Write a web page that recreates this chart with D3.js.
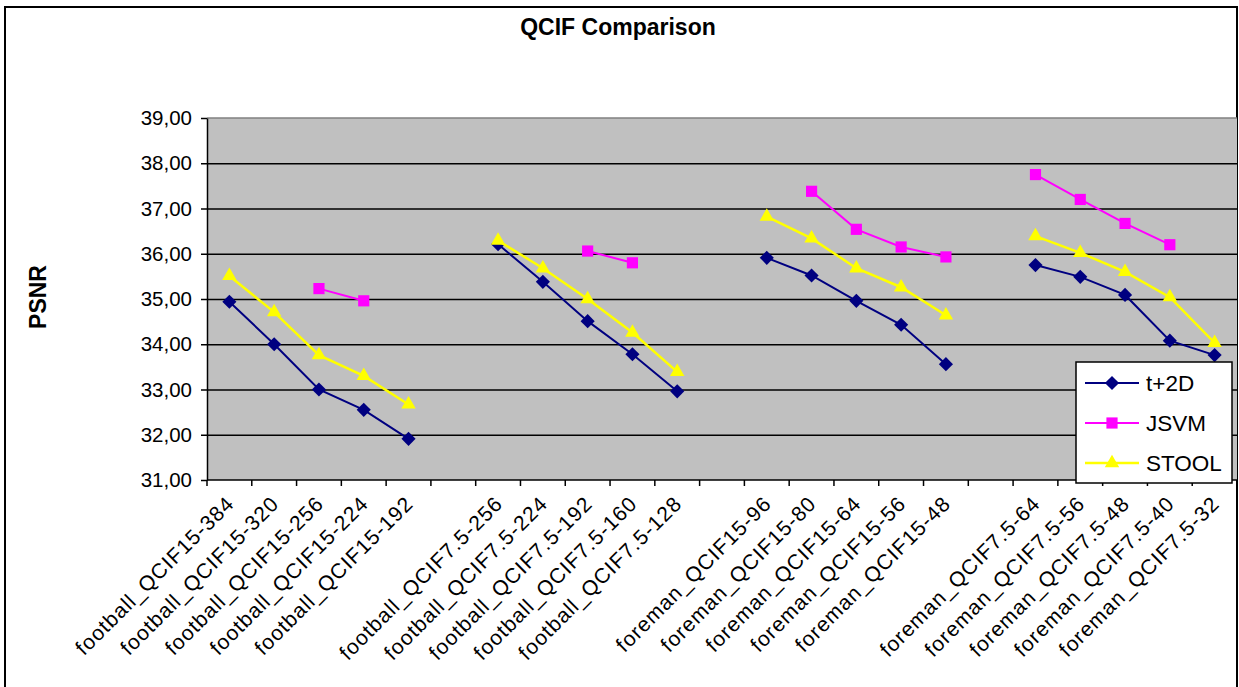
<!DOCTYPE html>
<html>
<head>
<meta charset="utf-8">
<script src="https://cdn.jsdelivr.net/npm/d3@7"></script>
<style>
  body { margin: 0; background: #fff; }
  text { font-family: "Liberation Sans", Arial, sans-serif; }
</style>
</head>
<body>
<div id="the_board"></div>
<script>
// categories ("" = empty gap slot between groups)
var categories = [
  "football_QCIF15-384", "football_QCIF15-320", "football_QCIF15-256", "football_QCIF15-224", "football_QCIF15-192",
  "",
  "football_QCIF7.5-256", "football_QCIF7.5-224", "football_QCIF7.5-192", "football_QCIF7.5-160", "football_QCIF7.5-128",
  "",
  "foreman_QCIF15-96", "foreman_QCIF15-80", "foreman_QCIF15-64", "foreman_QCIF15-56", "foreman_QCIF15-48",
  "",
  "foreman_QCIF7.5-64", "foreman_QCIF7.5-56", "foreman_QCIF7.5-48", "foreman_QCIF7.5-40", "foreman_QCIF7.5-32"
];

// series values (null = no value)
var t2d = [
  34.94, 34.00, 33.00, 32.55, 31.91, null,
  36.21, 35.38, 34.51, 33.78, 32.96, null,
  35.91, 35.52, 34.96, 34.43, 33.56, null,
  35.75, 35.49, 35.09, 34.08, 33.76
];
var jsvm = [
  null, null, 35.23, 34.96, null, null,
  null, null, 36.06, 35.80, null, null,
  null, 37.38, 36.54, 36.15, 35.93, null,
  37.75, 37.20, 36.67, 36.20, null
];
var stool = [
  35.51, 34.71, 33.76, 33.30, 32.67, null,
  36.29, 35.68, 35.00, 34.26, 33.39, null,
  36.82, 36.34, 35.68, 35.26, 34.64, null,
  36.39, 36.02, 35.60, 35.04, 34.03
];

var yTicks = [31, 32, 33, 34, 35, 36, 37, 38, 39];

var series = [
  { name: "t+2D", values: t2d, color: "#000080", marker: "diamond", lw: 2 },
  { name: "JSVM", values: jsvm, color: "#FF00FF", marker: "square", lw: 2 },
  { name: "STOOL", values: stool, color: "#FFFF00", marker: "triangle", lw: 2.5 }
];

var W = 1239, H = 687;
var plot = { left: 207, top: 118, right: 1237, bottom: 480 };

var svg = d3.select("#the_board")
  .append("svg")
  .attr("width", W)
  .attr("height", H);

// outer chart frame
svg.append("rect")
  .attr("x", 5).attr("y", 7)
  .attr("width", 1232).attr("height", 690)
  .attr("fill", "#fff")
  .attr("stroke", "#000")
  .attr("stroke-width", 2);

var x = d3.scaleBand()
  .domain(d3.range(categories.length))
  .range([plot.left, plot.right])
  .padding(0);

var y = d3.scaleLinear()
  .domain([31, 39])
  .range([plot.bottom, plot.top]);

// plot background
svg.append("rect")
  .attr("x", plot.left).attr("y", plot.top)
  .attr("width", plot.right - plot.left)
  .attr("height", plot.bottom - plot.top)
  .attr("fill", "#C0C0C0");

// top edge
svg.append("line")
  .attr("x1", plot.left).attr("x2", plot.right)
  .attr("y1", y(39)).attr("y2", y(39))
  .attr("stroke", "#808080").attr("stroke-width", 1.5);

// gridlines
svg.append("g")
  .attr("transform", "translate(" + plot.left + ",0)")
  .call(d3.axisLeft(y).tickValues(yTicks.slice(1, -1)).tickSize(-(plot.right - plot.left)).tickFormat(""))
  .call(function(g) {
    g.select(".domain").remove();
    g.selectAll("line").attr("stroke", "#000").attr("stroke-width", 1.5);
  });

// y axis
svg.append("g")
  .attr("transform", "translate(" + plot.left + ",0)")
  .call(d3.axisLeft(y).tickValues(yTicks).tickSize(6).tickSizeOuter(0).tickPadding(9)
    .tickFormat(function(d) { return d.toFixed(2).replace(".", ","); }))
  .call(function(g) {
    g.select(".domain").attr("stroke", "#000").attr("stroke-width", 1.5);
    g.selectAll("line").attr("stroke", "#000").attr("stroke-width", 1.5);
    g.selectAll("text").attr("font-size", 20.5).attr("fill", "#000")
      .style("font-family", "'Liberation Sans', Arial, sans-serif");
  });

// x axis: line + boundary ticks
var bounds = d3.range(categories.length).map(function(i) { return x(i); }).concat([plot.right]);
svg.append("line")
  .attr("x1", plot.left).attr("x2", plot.right)
  .attr("y1", plot.bottom).attr("y2", plot.bottom)
  .attr("stroke", "#000").attr("stroke-width", 1.5);
svg.append("g").selectAll("line")
  .data(bounds)
  .enter().append("line")
  .attr("x1", function(d) { return d; }).attr("x2", function(d) { return d; })
  .attr("y1", plot.bottom).attr("y2", plot.bottom + 6)
  .attr("stroke", "#000").attr("stroke-width", 1.5);

// x labels
svg.append("g")
  .attr("transform", "translate(0," + plot.bottom + ")")
  .call(d3.axisBottom(x).tickSize(0).tickFormat(function(i) { return categories[i]; }))
  .call(function(g) {
    g.select(".domain").remove();
    g.selectAll("text")
      .attr("font-size", 21)
      .attr("fill", "#000")
      .attr("letter-spacing", 1)
      .style("font-family", "'Liberation Sans', Arial, sans-serif")
      .attr("text-anchor", "end")
      .attr("y", 0).attr("dy", 0)
      .attr("transform", "translate(6,25) rotate(-45)");
  });

// markers
function markerPath(type, sz) {
  if (type === "diamond") return d3.symbol().type(d3.symbolSquare).size(sz || 100)();
  if (type === "square") return d3.symbol().type(d3.symbolSquare).size(sz || 125)();
  return d3.symbol().type(d3.symbolTriangle).size(sz || 90)();
}

var line = d3.line()
  .defined(function(d) { return d != null; })
  .x(function(d, i) { return x(i) + x.bandwidth() / 2; })
  .y(function(d) { return y(d); });

series.forEach(function(s) {
  svg.append("path")
    .datum(s.values)
    .attr("fill", "none")
    .attr("stroke", s.color)
    .attr("stroke-width", s.lw)
    .attr("d", line);

  svg.append("g").selectAll("path")
    .data(s.values.map(function(v, i) { return { v: v, i: i }; }).filter(function(d) { return d.v != null; }))
    .enter().append("path")
    .attr("d", markerPath(s.marker))
    .attr("fill", s.color)
    .attr("transform", function(d) {
      return "translate(" + (x(d.i) + x.bandwidth() / 2) + "," + y(d.v) + ")" +
        (s.marker === "diamond" ? " rotate(45)" : "");
    });
});

// title
svg.append("text")
  .attr("x", 618).attr("y", 35)
  .attr("text-anchor", "middle")
  .attr("font-size", 23).attr("font-weight", "bold")
  .text("QCIF Comparison");

// y axis title
svg.append("text")
  .attr("transform", "translate(46,297) rotate(-90)")
  .attr("text-anchor", "middle")
  .attr("font-size", 23).attr("font-weight", "bold")
  .text("PSNR");

// legend
var lg = svg.append("g").attr("transform", "translate(1076,362)");
lg.append("rect")
  .attr("width", 156).attr("height", 121)
  .attr("fill", "#fff").attr("stroke", "#000").attr("stroke-width", 1.5);
series.forEach(function(s, k) {
  var ly = 21 + k * 40;
  lg.append("line")
    .attr("x1", 9).attr("x2", 63)
    .attr("y1", ly).attr("y2", ly)
    .attr("stroke", s.color).attr("stroke-width", s.lw);
  lg.append("path")
    .attr("d", markerPath(s.marker))
    .attr("fill", s.color)
    .attr("transform", "translate(36," + ly + ")" + (s.marker === "diamond" ? " rotate(45)" : ""));
  lg.append("text")
    .attr("x", 70).attr("y", ly + 8)
    .attr("font-size", 22.5)
    .text(s.name);
});
</script>
</body>
</html>
